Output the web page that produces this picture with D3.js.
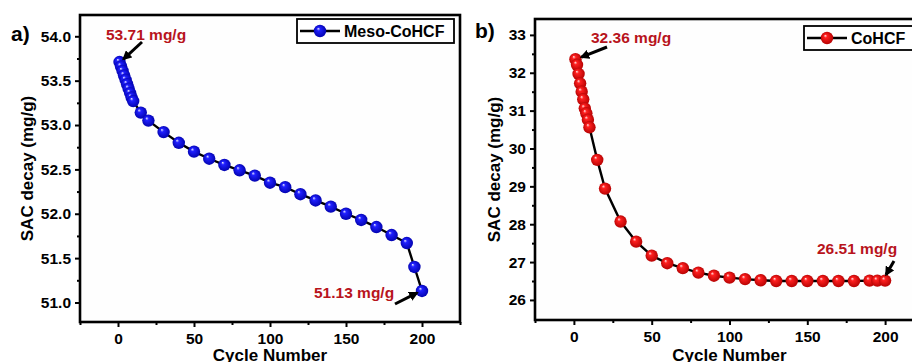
<!DOCTYPE html>
<html>
<head>
<meta charset="utf-8">
<script src="https://cdn.jsdelivr.net/npm/d3@7"></script>
<style>
  body { margin: 0; background: #fff; }
  svg { display: block; font-family: "Liberation Sans", Arial, sans-serif; font-weight: bold; }
</style>
</head>
<body>
<div id="chart"></div>
<script>
// cycle numbers (same for both samples)
var cycles = [1, 2, 3, 4, 5, 6, 7, 8, 9, 10, 15, 20, 30, 40, 50, 60, 70, 80, 90, 100,
              110, 120, 130, 140, 150, 160, 170, 180, 190, 195, 200];

// a) Meso-CoHCF
var mesoValues = [53.71, 53.66, 53.61, 53.56, 53.51, 53.46, 53.41, 53.36, 53.31, 53.27,
                  53.14, 53.05, 52.92, 52.80, 52.70, 52.62, 52.55, 52.49, 52.43, 52.35,
                  52.30, 52.22, 52.15, 52.08, 52.00, 51.93, 51.85, 51.76, 51.67, 51.40, 51.13];

// b) CoHCF
var cohcfValues = [32.36, 32.21, 31.97, 31.72, 31.50, 31.30, 31.06, 30.93, 30.76, 30.56,
                   29.70, 28.94, 28.07, 27.54, 27.17, 26.97, 26.84, 26.72, 26.64, 26.59,
                   26.55, 26.52, 26.50, 26.50, 26.50, 26.50, 26.50, 26.50, 26.51, 26.51, 26.51];

var xTicks = [0, 50, 100, 150, 200];
var mesoTicks = [51.0, 51.5, 52.0, 52.5, 53.0, 53.5, 54.0];
var cohcfTicks = [26, 27, 28, 29, 30, 31, 32, 33];

var svg = d3.select("#chart").append("svg")
    .attr("width", 912)
    .attr("height", 362);

var defs = svg.append("defs");

function ballGradient(id, light, mid, dark) {
  var g = defs.append("radialGradient")
      .attr("id", id)
      .attr("cx", "50%").attr("cy", "50%").attr("r", "55%")
      .attr("fx", "35%").attr("fy", "30%");
  g.append("stop").attr("offset", "0%").attr("stop-color", light);
  g.append("stop").attr("offset", "25%").attr("stop-color", mid);
  g.append("stop").attr("offset", "100%").attr("stop-color", dark);
}
ballGradient("blueBall", "#e8e8ff", "#2020ff", "#0000a8");
ballGradient("redBall", "#ffe8e8", "#ff2020", "#b00000");

defs.append("marker")
    .attr("id", "arrow")
    .attr("viewBox", "0 0 10 10")
    .attr("refX", 8).attr("refY", 5)
    .attr("markerWidth", 3.2).attr("markerHeight", 3.2)
    .attr("orient", "auto")
  .append("path")
    .attr("d", "M0,0 L10,5 L0,10 z")
    .attr("fill", "#000");

function drawPanel(opt) {
  var xScale = d3.scaleLinear().domain([-25, 225]).range([opt.left, opt.right]);
  var yScale = d3.scaleLinear().domain(opt.yDomain).range([opt.bottom, opt.top]);
  var g = svg.append("g");

  // frame
  g.append("rect")
      .attr("x", opt.left).attr("y", opt.top)
      .attr("width", opt.right - opt.left).attr("height", opt.bottom - opt.top)
      .attr("fill", "#fefefe").attr("stroke", "#000").attr("stroke-width", 2.6);

  // x axis
  var xAxis = d3.axisBottom(xScale).tickValues(xTicks).tickSize(5).tickPadding(6);
  var xMinor = d3.axisBottom(xScale).tickValues([-25, 25, 75, 125, 175, 225]).tickSize(3).tickFormat("");
  g.append("g").attr("class", "axis").attr("transform", "translate(0," + opt.bottom + ")").call(xAxis);
  g.append("g").attr("class", "axis").attr("transform", "translate(0," + opt.bottom + ")").call(xMinor);

  // y axis
  var yAxis = d3.axisLeft(yScale).tickValues(opt.yTicks).tickSize(5).tickPadding(4)
      .tickFormat(opt.yFormat);
  var yMinor = d3.axisLeft(yScale).tickValues(opt.yMinor).tickSize(3).tickFormat("");
  g.append("g").attr("class", "axis").attr("transform", "translate(" + opt.left + ",0)").call(yAxis);
  g.append("g").attr("class", "axis").attr("transform", "translate(" + opt.left + ",0)").call(yMinor);

  g.selectAll(".axis .domain").remove();
  g.selectAll(".axis line").attr("stroke", "#000").attr("stroke-width", 2);
  g.selectAll(".axis text")
      .attr("fill", "#000")
      .style("font-size", "15.5px")
      .style("font-weight", "bold")
      .style("font-family", "'Liberation Sans', Arial, sans-serif");

  // axis titles
  g.append("text")
      .attr("x", (xScale(-25) + xScale(225)) / 2)
      .attr("y", 361)
      .attr("text-anchor", "middle")
      .style("font-size", "17px")
      .text("Cycle Number");
  g.append("text")
      .attr("transform", "translate(" + opt.yTitleX + "," + ((opt.top + opt.bottom) / 2) + ") rotate(-90)")
      .attr("text-anchor", "middle")
      .attr("dy", "0.35em")
      .style("font-size", "17px")
      .text("SAC decay (mg/g)");

  // panel letter
  g.append("text")
      .attr("x", opt.letterX).attr("y", opt.letterY)
      .style("font-size", "21px")
      .text(opt.letter);

  // line + balls
  var pts = cycles.map(function(c, i) { return [c, opt.values[i]]; });
  var line = d3.line()
      .x(function(d) { return xScale(d[0]); })
      .y(function(d) { return yScale(d[1]); });
  g.append("path")
      .datum(pts)
      .attr("d", line)
      .attr("fill", "none")
      .attr("stroke", "#000")
      .attr("stroke-width", 2.4);
  g.selectAll(".ball")
      .data(pts)
      .enter().append("circle")
      .attr("class", "ball")
      .attr("cx", function(d) { return xScale(d[0]); })
      .attr("cy", function(d) { return yScale(d[1]); })
      .attr("r", 6.2)
      .attr("fill", "url(#" + opt.ball + ")");

  // annotations
  opt.notes.forEach(function(n) {
    g.append("text")
        .attr("x", n.tx).attr("y", n.ty)
        .attr("fill", "#b8141c")
        .style("font-size", "15.5px")
        .text(n.text);
    g.append("line")
        .attr("x1", n.ax).attr("y1", n.ay)
        .attr("x2", xScale(n.px) + n.dx).attr("y2", yScale(n.py) + n.dy)
        .attr("stroke", "#000").attr("stroke-width", 3)
        .attr("marker-end", "url(#arrow)");
  });

  // legend
  var lg = g.append("g");
  lg.append("rect")
      .attr("x", opt.legX).attr("y", opt.legY)
      .attr("width", opt.legW).attr("height", 24)
      .attr("fill", "#fff").attr("stroke", "#000").attr("stroke-width", 1.8);
  lg.append("line")
      .attr("x1", opt.legX + 3).attr("x2", opt.legX + 43)
      .attr("y1", opt.legY + 12).attr("y2", opt.legY + 12)
      .attr("stroke", "#000").attr("stroke-width", 2.4);
  lg.append("circle")
      .attr("cx", opt.legX + 23).attr("cy", opt.legY + 12).attr("r", 6.2)
      .attr("fill", "url(#" + opt.ball + ")");
  lg.append("text")
      .attr("x", opt.legX + 47).attr("y", opt.legY + 12)
      .attr("dy", "0.36em")
      .style("font-size", "16px")
      .text(opt.label);
}

drawPanel({
  left: 80, right: 460, top: 15, bottom: 322,
  yDomain: [50.78, 54.24],
  yTicks: mesoTicks,
  yMinor: [51.25, 51.75, 52.25, 52.75, 53.25, 53.75],
  yFormat: d3.format(".1f"),
  values: mesoValues,
  ball: "blueBall",
  label: "Meso-CoHCF",
  legX: 297, legY: 19, legW: 157,
  letter: "a)", letterX: 11, letterY: 41,
  yTitleX: 27,
  notes: [
    {text: "53.71 mg/g", tx: 106, ty: 40, ax: 142, ay: 42, px: 1, py: 53.71, dx: 4, dy: -3},
    {text: "51.13 mg/g", tx: 314, ty: 298, ax: 395, ay: 304, px: 200, py: 51.13, dx: -5, dy: 2}
  ]
});

drawPanel({
  left: 535, right: 924, top: 19, bottom: 320,
  yDomain: [25.47, 33.42],
  yTicks: cohcfTicks,
  yMinor: [26.5, 27.5, 28.5, 29.5, 30.5, 31.5, 32.5],
  yFormat: d3.format("d"),
  values: cohcfValues,
  ball: "redBall",
  label: "CoHCF",
  legX: 804, legY: 26, legW: 120,
  letter: "b)", letterX: 475, letterY: 38,
  yTitleX: 494,
  notes: [
    {text: "32.36 mg/g", tx: 591, ty: 43, ax: 607, ay: 47, px: 1, py: 32.36, dx: 6, dy: -2},
    {text: "26.51 mg/g", tx: 817, ty: 254, ax: 894, ay: 261, px: 200, py: 26.51, dx: 1, dy: -6}
  ]
});
</script>
</body>
</html>
